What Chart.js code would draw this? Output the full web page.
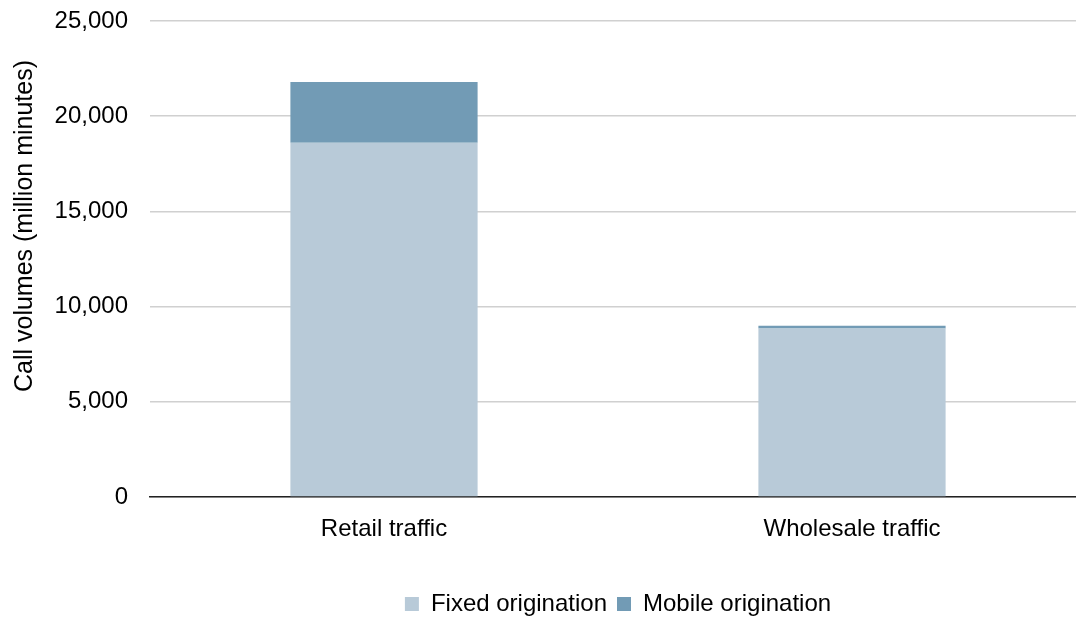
<!DOCTYPE html>
<html>
<head>
<meta charset="utf-8">
<script src="https://cdn.jsdelivr.net/npm/chart.js@4.4.1/dist/chart.umd.min.js"></script>
<style>
    html, body { margin: 0; padding: 0; background: #ffffff; overflow: hidden; }
    #wrap { width: 1090px; height: 626px; }
</style>
</head>
<body>
<div id="wrap"><canvas id="callChart" width="1090" height="626"></canvas></div>
<script>
// Call volumes by traffic type (million minutes)
const categories = ['Retail traffic', 'Wholesale traffic'];
const fixedOrigination = [18600, 8850];
const mobileOrigination = [3200, 150];
const yTicks = [0, 5000, 10000, 15000, 20000, 25000];
const yTitle = 'Call volumes (million minutes)';

const fixedColor = '#b8cad8';
const mobileColor = '#729bb5';

Chart.defaults.font.family = '"Liberation Sans", Arial, sans-serif';
Chart.defaults.font.size = 24;
Chart.defaults.color = '#000000';

// Draws the y axis title a bit above the plot centre, as in the original
const yTitlePlugin = {
    id: 'yTitle',
    afterDraw(chart) {
        const c = chart.ctx;
        const area = chart.chartArea;
        c.save();
        c.font = '25px "Liberation Sans", Arial, sans-serif';
        c.fillStyle = '#000000';
        c.textAlign = 'center';
        c.textBaseline = 'middle';
        c.translate(25, (area.top + area.bottom) / 2 - 33);
        c.rotate(-Math.PI / 2);
        c.fillText(yTitle, 0, 0);
        c.restore();
    }
};

var ctx = document.getElementById('callChart').getContext('2d');
var callChart = new Chart(ctx, {
    type: 'bar',
    data: {
        labels: categories,
        datasets: [{
            label: 'Fixed origination',
            data: fixedOrigination,
            backgroundColor: fixedColor,
            categoryPercentage: 1,
            barPercentage: 0.4
        }, {
            label: 'Mobile origination',
            data: mobileOrigination,
            backgroundColor: mobileColor,
            categoryPercentage: 1,
            barPercentage: 0.4
        }]
    },
    options: {
        responsive: false,
        animation: false,
        layout: {
            padding: { top: 21, right: 4, bottom: 0, left: 0 }
        },
        scales: {
            x: {
                stacked: true,
                grid: { display: false },
                border: { display: true, color: '#222222', width: 1.5 },
                ticks: { padding: 10 },
                afterFit: function(scale) { scale.height = 85; }
            },
            y: {
                stacked: true,
                min: 0,
                max: 25000,
                afterBuildTicks: function(scale) {
                    scale.ticks = yTicks.map(v => ({ value: v }));
                },
                grid: { color: '#d0d0d0', lineWidth: 1.5, drawTicks: false },
                border: { display: false },
                ticks: {
                    padding: 22,
                    callback: v => v.toLocaleString('en-US')
                },
                afterFit: function(scale) {
                    scale.width = 150;
                    scale.paddingTop = 0;
                    scale.paddingBottom = 0;
                }
            }
        },
        plugins: {
            legend: {
                position: 'bottom',
                fullSize: false,
                labels: {
                    boxWidth: 14,
                    boxHeight: 14,
                    padding: 10
                }
            },
            tooltip: { enabled: false }
        }
    },
    plugins: [yTitlePlugin]
});
</script>
</body>
</html>
